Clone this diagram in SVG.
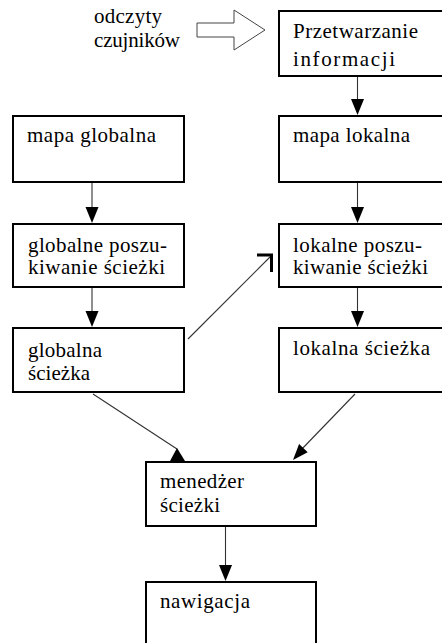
<svg xmlns="http://www.w3.org/2000/svg" width="442" height="643" viewBox="0 0 442 643">
<style>
.box{fill:#fff;stroke:#000;stroke-width:2}
.ln{stroke:#333;stroke-width:1.1;fill:none}
.ah{fill:#000;stroke:none}
svg text.t{font-family:"Liberation Serif","Times New Roman",serif !important;font-size:21px !important;fill:#000}
</style>
<rect width="442" height="643" fill="#fff"/>
<g id="connectors">
  <polygon points="197,23 234,23 234,10 265,30 234,50 234,37 197,37" fill="#fff" stroke="#444" stroke-width="1"/>
  <line class="ln" x1="357.5" y1="77" x2="357.5" y2="100"/>
  <polygon class="ah" points="351,99 364,99 357.5,115"/>
  <line class="ln" x1="92" y1="183" x2="92" y2="208"/>
  <polygon class="ah" points="85.5,207 98.5,207 92,223"/>
  <line class="ln" x1="357.5" y1="183" x2="357.5" y2="208"/>
  <polygon class="ah" points="351,207 364,207 357.5,223"/>
  <line class="ln" x1="92" y1="288" x2="92" y2="312"/>
  <polygon class="ah" points="85.5,311 98.5,311 92,327"/>
  <line class="ln" x1="357.5" y1="288" x2="357.5" y2="312"/>
  <polygon class="ah" points="351,311 364,311 357.5,327"/>
  <line class="ln" x1="188" y1="339" x2="271" y2="256"/>
  <path d="M257,255 H271.5 V272" fill="none" stroke="#000" stroke-width="3"/>
  <line class="ln" x1="93" y1="394" x2="177" y2="449"/>
  <polygon class="ah" points="177,448 170,461 185,461"/>
  <line class="ln" x1="355" y1="394" x2="300" y2="451"/>
  <polygon class="ah" points="293,460 307.7,452.2 299.1,444"/>
  <line class="ln" x1="225.5" y1="527" x2="225.5" y2="566"/>
  <polygon class="ah" points="219,565 232,565 225.5,581"/>
</g>
<g id="odczyty">
  <text class="t" x="94" y="22.5" textLength="68" lengthAdjust="spacing">odczyty</text>
  <text class="t" x="94" y="46.5" textLength="86" lengthAdjust="spacing">czujników</text>
</g>
<g id="przetwarzanie">
  <rect class="box" x="279" y="11" width="200" height="65"/>
  <text class="t" x="293" y="38" textLength="125" lengthAdjust="spacing">Przetwarzanie</text>
  <text class="t" x="293" y="66" textLength="102" lengthAdjust="spacing">informacji</text>
</g>
<g id="mapa-globalna">
  <rect class="box" x="13" y="116" width="171" height="66"/>
  <text class="t" x="27" y="142" textLength="129" lengthAdjust="spacing">mapa globalna</text>
</g>
<g id="mapa-lokalna">
  <rect class="box" x="279" y="116" width="200" height="66"/>
  <text class="t" x="293" y="142" textLength="117" lengthAdjust="spacing">mapa lokalna</text>
</g>
<g id="globalne-poszukiwanie">
  <rect class="box" x="13" y="224" width="171" height="63"/>
  <text class="t" x="28" y="252" textLength="139" lengthAdjust="spacing">globalne poszu-</text>
  <text class="t" x="28" y="274" textLength="137" lengthAdjust="spacing">kiwanie ścieżki</text>
</g>
<g id="lokalne-poszukiwanie">
  <rect class="box" x="279" y="224" width="200" height="63"/>
  <text class="t" x="293" y="252" textLength="129" lengthAdjust="spacing">lokalne poszu-</text>
  <text class="t" x="293" y="274" textLength="135" lengthAdjust="spacing">kiwanie ścieżki</text>
</g>
<g id="globalna-sciezka">
  <rect class="box" x="13" y="328" width="171" height="64"/>
  <text class="t" x="28" y="357" textLength="74" lengthAdjust="spacing">globalna</text>
  <text class="t" x="28" y="380" textLength="62" lengthAdjust="spacing">ścieżka</text>
</g>
<g id="lokalna-sciezka">
  <rect class="box" x="279" y="328" width="200" height="64"/>
  <text class="t" x="293" y="355" textLength="137" lengthAdjust="spacing">lokalna ścieżka</text>
</g>
<g id="menedzer">
  <rect class="box" x="146" y="462" width="170" height="64"/>
  <text class="t" x="160" y="488" textLength="84" lengthAdjust="spacing">menedżer</text>
  <text class="t" x="160" y="512" textLength="60" lengthAdjust="spacing">ścieżki</text>
</g>
<g id="nawigacja">
  <rect class="box" x="146" y="582" width="170" height="100"/>
  <text class="t" x="160" y="608" textLength="90" lengthAdjust="spacing">nawigacja</text>
</g>
</svg>
